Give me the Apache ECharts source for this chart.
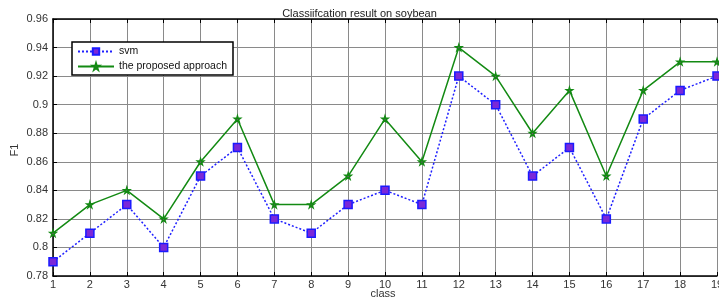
<!DOCTYPE html>
<html>
<head>
<meta charset="utf-8">
<script src="https://cdn.jsdelivr.net/npm/echarts@6/dist/echarts.min.js"></script>
<style>
html, body { margin: 0; padding: 0; background: #fff; }
#chart { width: 719px; height: 299px; }
</style>
</head>
<body>
<div id="chart"></div>
<script>
var classes = ['1','2','3','4','5','6','7','8','9','10','11','12','13','14','15','16','17','18','19'];
var svm = [0.79, 0.81, 0.83, 0.80, 0.85, 0.87, 0.82, 0.81, 0.83, 0.84, 0.83, 0.92, 0.90, 0.85, 0.87, 0.82, 0.89, 0.91, 0.92];
var proposed = [0.81, 0.83, 0.84, 0.82, 0.86, 0.89, 0.83, 0.83, 0.85, 0.89, 0.86, 0.94, 0.92, 0.88, 0.91, 0.85, 0.91, 0.93, 0.93];

var star = 'path://M50,0 L61,35 L98,35 L68,57 L79,91 L50,70 L21,91 L32,57 L2,35 L39,35 Z';
var font = 'Liberation Sans';

var chart = echarts.init(document.getElementById('chart'));
var option = {
    backgroundColor: '#fff',
    animation: false,
    title: {
        text: 'Classiifcation result on soybean',
        left: 'center',
        top: 3,
        textStyle: { fontFamily: font, fontSize: 11, fontWeight: 'normal', color: '#222' }
    },
    // axis titles
    graphic: [{
        type: 'text',
        x: 15, y: 150,
        rotation: Math.PI / 2,
        style: { text: 'F1', fontFamily: font, fontSize: 11, fill: '#333', align: 'center', verticalAlign: 'middle' }
    }, {
        type: 'text',
        x: 383, y: 294,
        style: { text: 'class', fontFamily: font, fontSize: 11, fill: '#333', align: 'center', verticalAlign: 'middle' }
    }],
    grid: { left: 53, right: 2, top: 19, bottom: 23, outerBoundsMode: 'none', containLabel: false },
    legend: {
        orient: 'vertical',
        left: 72,
        top: 42,
        itemWidth: 36,
        itemHeight: 8,
        itemGap: 4,
        padding: [4, 6, 3, 5],
        borderColor: '#000',
        borderWidth: 1.5,
        backgroundColor: '#fff',
        textStyle: { fontFamily: font, fontSize: 10.5, color: '#111' },
        data: ['svm', 'the proposed approach']
    },
    xAxis: [{
        type: 'category',
        data: classes,
        boundaryGap: false,
        axisLine: { lineStyle: { color: '#000', width: 1.5 } },
        axisTick: { show: true, inside: true, length: 4, lineStyle: { color: '#000' } },
        axisLabel: { fontFamily: font, fontSize: 11, color: '#333', margin: 3, showMaxLabel: true },
        splitLine: { show: true, lineStyle: { color: '#8a8a8a', width: 1 } }
    }, {
        type: 'category',
        data: classes,
        boundaryGap: false,
        position: 'top',
        axisLine: { lineStyle: { color: '#000', width: 1.5 } },
        axisTick: { show: true, inside: true, length: 4, lineStyle: { color: '#000' } },
        axisLabel: { show: false },
        splitLine: { show: false }
    }],
    yAxis: {
        type: 'value',
        min: 0.78,
        max: 0.96,
        interval: 0.02,
        axisLine: { show: true, lineStyle: { color: '#000', width: 1.5 } },
        axisTick: { show: true, inside: true, length: 4, lineStyle: { color: '#000' } },
        axisLabel: {
            fontFamily: font, fontSize: 11, color: '#333', margin: 5,
            formatter: function (v) { return String(parseFloat(v.toFixed(2))); }
        },
        splitLine: { show: true, lineStyle: { color: '#8a8a8a', width: 1 } }
    },
    series: [{
        name: 'svm',
        type: 'line',
        data: svm,
        symbol: 'rect',
        symbolSize: 8,
        itemStyle: { color: '#7a28d8', borderColor: '#1a1aff', borderWidth: 1.5 },
        lineStyle: { color: '#2020ff', width: 1.5, type: [2, 2] },
        z: 3
    }, {
        name: 'the proposed approach',
        type: 'line',
        data: proposed,
        symbol: star,
        symbolSize: 6,
        itemStyle: { color: '#c020c0', borderColor: '#138a13', borderWidth: 1.5 },
        lineStyle: { color: '#138a13', width: 1.5 },
        z: 4
    }]
};
chart.setOption(option);
</script>
</body>
</html>
